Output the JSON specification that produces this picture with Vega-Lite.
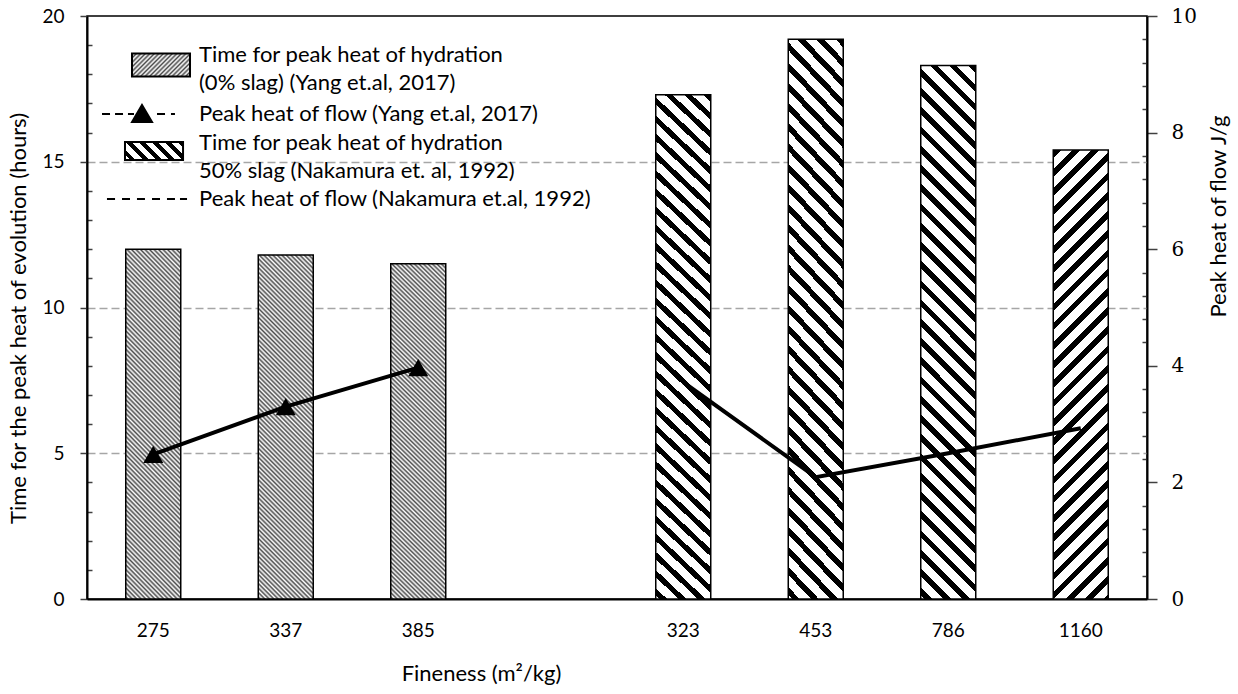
{
"$schema": "https://vega.github.io/schema/vega-lite/v6.json",
"width": 1060, "height": 583,
"autosize": "none",
"padding": {"left": 87, "top": 16, "right": 91, "bottom": 95},
"background": "white",
"config": {
 "font": "Lato",
 "view": {"stroke": "#000", "strokeWidth": 1.5},
 "axis": {"domainColor": "#000", "domainWidth": 2, "tickColor": "#404040", "tickWidth": 1.5, "labelColor": "#000", "titleColor": "#000", "titleFontWeight": "normal", "labelFont": "Lato", "titleFont": "Lato", "labelFontSize": 19, "titleFontSize": 22, "labelOverlap": false},
 "legend": {"labelColor": "#000"}
},
"datasets": {
 "bars": [
  {"fineness": "275", "time": 12.0, "group": "Yang"},
  {"fineness": "337", "time": 11.8, "group": "Yang"},
  {"fineness": "385", "time": 11.5, "group": "Yang"},
  {"fineness": "323", "time": 17.3, "group": "Nakamura"},
  {"fineness": "453", "time": 19.2, "group": "Nakamura"},
  {"fineness": "786", "time": 18.3, "group": "Nakamura"},
  {"fineness": "1160", "time": 15.4, "group": "Nakamura"}
 ],
 "flow": [
  {"fineness": "275", "heat": 2.48, "series": "flow_Yang"},
  {"fineness": "337", "heat": 3.3, "series": "flow_Yang"},
  {"fineness": "385", "heat": 3.97, "series": "flow_Yang"},
  {"fineness": "323", "heat": 3.72, "series": "flow_Nakamura"},
  {"fineness": "453", "heat": 2.09, "series": "flow_Nakamura"},
  {"fineness": "786", "heat": 2.5, "series": "flow_Nakamura"},
  {"fineness": "1160", "heat": 2.93, "series": "flow_Nakamura"}
 ]
},
"encoding": {
 "x": {"field": "fineness", "type": "nominal",
  "scale": {"domain": ["275", "337", "385", " ", "323", "453", "786", "1160"], "paddingInner": 0.585, "paddingOuter": 0.2925},
  "axis": {"title": "Fineness (m²/kg)", "ticks": false, "labelPadding": 22, "labelAngle": 0, "grid": false, "titleX": 394, "titleY": 74, "titleBaseline": "middle"}}
},
"layer": [
 {
  "data": {"name": "bars"},
  "mark": {"type": "bar", "stroke": "#000", "strokeWidth": 1.5},
  "encoding": {
   "y": {"field": "time", "type": "quantitative", "scale": {"domain": [0, 20], "nice": false},
    "axis": {"title": "Time for the peak heat of evolution (hours)",
     "values": [0,1,2,3,4,5,6,7,8,9,10,11,12,13,14,15,16,17,18,19,20],
     "labelExpr": "datum.value % 5 === 0 ? datum.label : ''",
     "tickSize": {"condition": {"test": "datum.value % 5 === 0", "value": 7}, "value": -5},
     "grid": true, "gridColor": "#a6a6a6", "gridDash": [8, 4], "gridWidth": 1.3,
     "gridOpacity": {"condition": {"test": "datum.value % 5 === 0 && datum.value > 0 && datum.value < 20", "value": 1}, "value": 0},
     "labelPadding": 16, "titleX": -69, "titleY": 302, "titleBaseline": "middle"}},
   "fill": {
    "condition": [
     {"test": "datum.group === 'Yang'", "value": {"gradient": "linear", "x1": 1, "y1": 0, "x2": 0.7949, "y2": 1.27907, "stops": [
{"offset":0,"color":"#4d4d4d"},{"offset":0.005,"color":"#fff"},{"offset":0.01,"color":"#4d4d4d"},{"offset":0.015,"color":"#fff"},{"offset":0.02,"color":"#4d4d4d"},{"offset":0.025,"color":"#fff"},{"offset":0.03,"color":"#4d4d4d"},{"offset":0.035,"color":"#fff"},{"offset":0.04,"color":"#4d4d4d"},{"offset":0.045,"color":"#fff"},{"offset":0.05,"color":"#4d4d4d"},{"offset":0.055,"color":"#fff"},{"offset":0.06,"color":"#4d4d4d"},{"offset":0.065,"color":"#fff"},{"offset":0.07,"color":"#4d4d4d"},{"offset":0.075,"color":"#fff"},{"offset":0.08,"color":"#4d4d4d"},{"offset":0.085,"color":"#fff"},{"offset":0.09,"color":"#4d4d4d"},{"offset":0.095,"color":"#fff"},
{"offset":0.1,"color":"#4d4d4d"},{"offset":0.105,"color":"#fff"},{"offset":0.11,"color":"#4d4d4d"},{"offset":0.115,"color":"#fff"},{"offset":0.12,"color":"#4d4d4d"},{"offset":0.125,"color":"#fff"},{"offset":0.13,"color":"#4d4d4d"},{"offset":0.135,"color":"#fff"},{"offset":0.14,"color":"#4d4d4d"},{"offset":0.145,"color":"#fff"},{"offset":0.15,"color":"#4d4d4d"},{"offset":0.155,"color":"#fff"},{"offset":0.16,"color":"#4d4d4d"},{"offset":0.165,"color":"#fff"},{"offset":0.17,"color":"#4d4d4d"},{"offset":0.175,"color":"#fff"},{"offset":0.18,"color":"#4d4d4d"},{"offset":0.185,"color":"#fff"},{"offset":0.19,"color":"#4d4d4d"},{"offset":0.195,"color":"#fff"},
{"offset":0.2,"color":"#4d4d4d"},{"offset":0.205,"color":"#fff"},{"offset":0.21,"color":"#4d4d4d"},{"offset":0.215,"color":"#fff"},{"offset":0.22,"color":"#4d4d4d"},{"offset":0.225,"color":"#fff"},{"offset":0.23,"color":"#4d4d4d"},{"offset":0.235,"color":"#fff"},{"offset":0.24,"color":"#4d4d4d"},{"offset":0.245,"color":"#fff"},{"offset":0.25,"color":"#4d4d4d"},{"offset":0.255,"color":"#fff"},{"offset":0.26,"color":"#4d4d4d"},{"offset":0.265,"color":"#fff"},{"offset":0.27,"color":"#4d4d4d"},{"offset":0.275,"color":"#fff"},{"offset":0.28,"color":"#4d4d4d"},{"offset":0.285,"color":"#fff"},{"offset":0.29,"color":"#4d4d4d"},{"offset":0.295,"color":"#fff"},
{"offset":0.3,"color":"#4d4d4d"},{"offset":0.305,"color":"#fff"},{"offset":0.31,"color":"#4d4d4d"},{"offset":0.315,"color":"#fff"},{"offset":0.32,"color":"#4d4d4d"},{"offset":0.325,"color":"#fff"},{"offset":0.33,"color":"#4d4d4d"},{"offset":0.335,"color":"#fff"},{"offset":0.34,"color":"#4d4d4d"},{"offset":0.345,"color":"#fff"},{"offset":0.35,"color":"#4d4d4d"},{"offset":0.355,"color":"#fff"},{"offset":0.36,"color":"#4d4d4d"},{"offset":0.365,"color":"#fff"},{"offset":0.37,"color":"#4d4d4d"},{"offset":0.375,"color":"#fff"},{"offset":0.38,"color":"#4d4d4d"},{"offset":0.385,"color":"#fff"},{"offset":0.39,"color":"#4d4d4d"},{"offset":0.395,"color":"#fff"},
{"offset":0.4,"color":"#4d4d4d"},{"offset":0.405,"color":"#fff"},{"offset":0.41,"color":"#4d4d4d"},{"offset":0.415,"color":"#fff"},{"offset":0.42,"color":"#4d4d4d"},{"offset":0.425,"color":"#fff"},{"offset":0.43,"color":"#4d4d4d"},{"offset":0.435,"color":"#fff"},{"offset":0.44,"color":"#4d4d4d"},{"offset":0.445,"color":"#fff"},{"offset":0.45,"color":"#4d4d4d"},{"offset":0.455,"color":"#fff"},{"offset":0.46,"color":"#4d4d4d"},{"offset":0.465,"color":"#fff"},{"offset":0.47,"color":"#4d4d4d"},{"offset":0.475,"color":"#fff"},{"offset":0.48,"color":"#4d4d4d"},{"offset":0.485,"color":"#fff"},{"offset":0.49,"color":"#4d4d4d"},{"offset":0.495,"color":"#fff"},
{"offset":0.5,"color":"#4d4d4d"},{"offset":0.505,"color":"#fff"},{"offset":0.51,"color":"#4d4d4d"},{"offset":0.515,"color":"#fff"},{"offset":0.52,"color":"#4d4d4d"},{"offset":0.525,"color":"#fff"},{"offset":0.53,"color":"#4d4d4d"},{"offset":0.535,"color":"#fff"},{"offset":0.54,"color":"#4d4d4d"},{"offset":0.545,"color":"#fff"},{"offset":0.55,"color":"#4d4d4d"},{"offset":0.555,"color":"#fff"},{"offset":0.56,"color":"#4d4d4d"},{"offset":0.565,"color":"#fff"},{"offset":0.57,"color":"#4d4d4d"},{"offset":0.575,"color":"#fff"},{"offset":0.58,"color":"#4d4d4d"},{"offset":0.585,"color":"#fff"},{"offset":0.59,"color":"#4d4d4d"},{"offset":0.595,"color":"#fff"},
{"offset":0.6,"color":"#4d4d4d"},{"offset":0.605,"color":"#fff"},{"offset":0.61,"color":"#4d4d4d"},{"offset":0.615,"color":"#fff"},{"offset":0.62,"color":"#4d4d4d"},{"offset":0.625,"color":"#fff"},{"offset":0.63,"color":"#4d4d4d"},{"offset":0.635,"color":"#fff"},{"offset":0.64,"color":"#4d4d4d"},{"offset":0.645,"color":"#fff"},{"offset":0.65,"color":"#4d4d4d"},{"offset":0.655,"color":"#fff"},{"offset":0.66,"color":"#4d4d4d"},{"offset":0.665,"color":"#fff"},{"offset":0.67,"color":"#4d4d4d"},{"offset":0.675,"color":"#fff"},{"offset":0.68,"color":"#4d4d4d"},{"offset":0.685,"color":"#fff"},{"offset":0.69,"color":"#4d4d4d"},{"offset":0.695,"color":"#fff"},
{"offset":0.7,"color":"#4d4d4d"},{"offset":0.705,"color":"#fff"},{"offset":0.71,"color":"#4d4d4d"},{"offset":0.715,"color":"#fff"},{"offset":0.72,"color":"#4d4d4d"},{"offset":0.725,"color":"#fff"},{"offset":0.73,"color":"#4d4d4d"},{"offset":0.735,"color":"#fff"},{"offset":0.74,"color":"#4d4d4d"},{"offset":0.745,"color":"#fff"},{"offset":0.75,"color":"#4d4d4d"},{"offset":0.755,"color":"#fff"},{"offset":0.76,"color":"#4d4d4d"},{"offset":0.765,"color":"#fff"},{"offset":0.77,"color":"#4d4d4d"},{"offset":0.775,"color":"#fff"},{"offset":0.78,"color":"#4d4d4d"},{"offset":0.785,"color":"#fff"},{"offset":0.79,"color":"#4d4d4d"},{"offset":0.795,"color":"#fff"},
{"offset":0.8,"color":"#4d4d4d"},{"offset":0.805,"color":"#fff"},{"offset":0.81,"color":"#4d4d4d"},{"offset":0.815,"color":"#fff"},{"offset":0.82,"color":"#4d4d4d"},{"offset":0.825,"color":"#fff"},{"offset":0.83,"color":"#4d4d4d"},{"offset":0.835,"color":"#fff"},{"offset":0.84,"color":"#4d4d4d"},{"offset":0.845,"color":"#fff"},{"offset":0.85,"color":"#4d4d4d"},{"offset":0.855,"color":"#fff"},{"offset":0.86,"color":"#4d4d4d"},{"offset":0.865,"color":"#fff"},{"offset":0.87,"color":"#4d4d4d"},{"offset":0.875,"color":"#fff"},{"offset":0.88,"color":"#4d4d4d"},{"offset":0.885,"color":"#fff"},{"offset":0.89,"color":"#4d4d4d"},{"offset":0.895,"color":"#fff"},
{"offset":0.9,"color":"#4d4d4d"},{"offset":0.905,"color":"#fff"},{"offset":0.91,"color":"#4d4d4d"},{"offset":0.915,"color":"#fff"},{"offset":0.92,"color":"#4d4d4d"},{"offset":0.925,"color":"#fff"},{"offset":0.93,"color":"#4d4d4d"},{"offset":0.935,"color":"#fff"},{"offset":0.94,"color":"#4d4d4d"},{"offset":0.945,"color":"#fff"},{"offset":0.95,"color":"#4d4d4d"},{"offset":0.955,"color":"#fff"},{"offset":1,"color":"#fff"}
     ]}},
     {"test": "datum.fineness === '1160'", "value": {"gradient": "linear", "x1": 0, "y1": 0, "x2": 0.1653, "y2": 1.34947, "stops": [
{"offset":0,"color":"#000"},{"offset":0.0125,"color":"#000"},{"offset":0.0125,"color":"#fff"},{"offset":0.03125,"color":"#fff"},
{"offset":0.03125,"color":"#000"},{"offset":0.04375,"color":"#000"},{"offset":0.04375,"color":"#fff"},{"offset":0.0625,"color":"#fff"},
{"offset":0.0625,"color":"#000"},{"offset":0.075,"color":"#000"},{"offset":0.075,"color":"#fff"},{"offset":0.09375,"color":"#fff"},
{"offset":0.09375,"color":"#000"},{"offset":0.10625,"color":"#000"},{"offset":0.10625,"color":"#fff"},{"offset":0.125,"color":"#fff"},
{"offset":0.125,"color":"#000"},{"offset":0.1375,"color":"#000"},{"offset":0.1375,"color":"#fff"},{"offset":0.15625,"color":"#fff"},
{"offset":0.15625,"color":"#000"},{"offset":0.16875,"color":"#000"},{"offset":0.16875,"color":"#fff"},{"offset":0.1875,"color":"#fff"},
{"offset":0.1875,"color":"#000"},{"offset":0.2,"color":"#000"},{"offset":0.2,"color":"#fff"},{"offset":0.21875,"color":"#fff"},
{"offset":0.21875,"color":"#000"},{"offset":0.23125,"color":"#000"},{"offset":0.23125,"color":"#fff"},{"offset":0.25,"color":"#fff"},
{"offset":0.25,"color":"#000"},{"offset":0.2625,"color":"#000"},{"offset":0.2625,"color":"#fff"},{"offset":0.28125,"color":"#fff"},
{"offset":0.28125,"color":"#000"},{"offset":0.29375,"color":"#000"},{"offset":0.29375,"color":"#fff"},{"offset":0.3125,"color":"#fff"},
{"offset":0.3125,"color":"#000"},{"offset":0.325,"color":"#000"},{"offset":0.325,"color":"#fff"},{"offset":0.34375,"color":"#fff"},
{"offset":0.34375,"color":"#000"},{"offset":0.35625,"color":"#000"},{"offset":0.35625,"color":"#fff"},{"offset":0.375,"color":"#fff"},
{"offset":0.375,"color":"#000"},{"offset":0.3875,"color":"#000"},{"offset":0.3875,"color":"#fff"},{"offset":0.40625,"color":"#fff"},
{"offset":0.40625,"color":"#000"},{"offset":0.41875,"color":"#000"},{"offset":0.41875,"color":"#fff"},{"offset":0.4375,"color":"#fff"},
{"offset":0.4375,"color":"#000"},{"offset":0.45,"color":"#000"},{"offset":0.45,"color":"#fff"},{"offset":0.46875,"color":"#fff"},
{"offset":0.46875,"color":"#000"},{"offset":0.48125,"color":"#000"},{"offset":0.48125,"color":"#fff"},{"offset":0.5,"color":"#fff"},
{"offset":0.5,"color":"#000"},{"offset":0.5125,"color":"#000"},{"offset":0.5125,"color":"#fff"},{"offset":0.53125,"color":"#fff"},
{"offset":0.53125,"color":"#000"},{"offset":0.54375,"color":"#000"},{"offset":0.54375,"color":"#fff"},{"offset":0.5625,"color":"#fff"},
{"offset":0.5625,"color":"#000"},{"offset":0.575,"color":"#000"},{"offset":0.575,"color":"#fff"},{"offset":0.59375,"color":"#fff"},
{"offset":0.59375,"color":"#000"},{"offset":0.60625,"color":"#000"},{"offset":0.60625,"color":"#fff"},{"offset":0.625,"color":"#fff"},
{"offset":0.625,"color":"#000"},{"offset":0.6375,"color":"#000"},{"offset":0.6375,"color":"#fff"},{"offset":0.65625,"color":"#fff"},
{"offset":0.65625,"color":"#000"},{"offset":0.66875,"color":"#000"},{"offset":0.66875,"color":"#fff"},{"offset":0.6875,"color":"#fff"},
{"offset":0.6875,"color":"#000"},{"offset":0.7,"color":"#000"},{"offset":0.7,"color":"#fff"},{"offset":0.71875,"color":"#fff"},
{"offset":0.71875,"color":"#000"},{"offset":0.73125,"color":"#000"},{"offset":0.73125,"color":"#fff"},{"offset":0.75,"color":"#fff"},
{"offset":0.75,"color":"#000"},{"offset":0.7625,"color":"#000"},{"offset":0.7625,"color":"#fff"},{"offset":0.78125,"color":"#fff"},
{"offset":0.78125,"color":"#000"},{"offset":0.79375,"color":"#000"},{"offset":0.79375,"color":"#fff"},{"offset":0.8125,"color":"#fff"},
{"offset":0.8125,"color":"#000"},{"offset":0.825,"color":"#000"},{"offset":0.825,"color":"#fff"},{"offset":0.84375,"color":"#fff"},
{"offset":0.84375,"color":"#000"},{"offset":0.85625,"color":"#000"},{"offset":0.85625,"color":"#fff"},{"offset":1,"color":"#fff"}
     ]}}
    ],
    "value": {"gradient": "linear", "x1": 1, "y1": 0, "x2": 0.88219, "y2": 1.14169, "stops": [
{"offset":0,"color":"#000"},{"offset":0.0125,"color":"#000"},{"offset":0.0125,"color":"#fff"},{"offset":0.03125,"color":"#fff"},
{"offset":0.03125,"color":"#000"},{"offset":0.04375,"color":"#000"},{"offset":0.04375,"color":"#fff"},{"offset":0.0625,"color":"#fff"},
{"offset":0.0625,"color":"#000"},{"offset":0.075,"color":"#000"},{"offset":0.075,"color":"#fff"},{"offset":0.09375,"color":"#fff"},
{"offset":0.09375,"color":"#000"},{"offset":0.10625,"color":"#000"},{"offset":0.10625,"color":"#fff"},{"offset":0.125,"color":"#fff"},
{"offset":0.125,"color":"#000"},{"offset":0.1375,"color":"#000"},{"offset":0.1375,"color":"#fff"},{"offset":0.15625,"color":"#fff"},
{"offset":0.15625,"color":"#000"},{"offset":0.16875,"color":"#000"},{"offset":0.16875,"color":"#fff"},{"offset":0.1875,"color":"#fff"},
{"offset":0.1875,"color":"#000"},{"offset":0.2,"color":"#000"},{"offset":0.2,"color":"#fff"},{"offset":0.21875,"color":"#fff"},
{"offset":0.21875,"color":"#000"},{"offset":0.23125,"color":"#000"},{"offset":0.23125,"color":"#fff"},{"offset":0.25,"color":"#fff"},
{"offset":0.25,"color":"#000"},{"offset":0.2625,"color":"#000"},{"offset":0.2625,"color":"#fff"},{"offset":0.28125,"color":"#fff"},
{"offset":0.28125,"color":"#000"},{"offset":0.29375,"color":"#000"},{"offset":0.29375,"color":"#fff"},{"offset":0.3125,"color":"#fff"},
{"offset":0.3125,"color":"#000"},{"offset":0.325,"color":"#000"},{"offset":0.325,"color":"#fff"},{"offset":0.34375,"color":"#fff"},
{"offset":0.34375,"color":"#000"},{"offset":0.35625,"color":"#000"},{"offset":0.35625,"color":"#fff"},{"offset":0.375,"color":"#fff"},
{"offset":0.375,"color":"#000"},{"offset":0.3875,"color":"#000"},{"offset":0.3875,"color":"#fff"},{"offset":0.40625,"color":"#fff"},
{"offset":0.40625,"color":"#000"},{"offset":0.41875,"color":"#000"},{"offset":0.41875,"color":"#fff"},{"offset":0.4375,"color":"#fff"},
{"offset":0.4375,"color":"#000"},{"offset":0.45,"color":"#000"},{"offset":0.45,"color":"#fff"},{"offset":0.46875,"color":"#fff"},
{"offset":0.46875,"color":"#000"},{"offset":0.48125,"color":"#000"},{"offset":0.48125,"color":"#fff"},{"offset":0.5,"color":"#fff"},
{"offset":0.5,"color":"#000"},{"offset":0.5125,"color":"#000"},{"offset":0.5125,"color":"#fff"},{"offset":0.53125,"color":"#fff"},
{"offset":0.53125,"color":"#000"},{"offset":0.54375,"color":"#000"},{"offset":0.54375,"color":"#fff"},{"offset":0.5625,"color":"#fff"},
{"offset":0.5625,"color":"#000"},{"offset":0.575,"color":"#000"},{"offset":0.575,"color":"#fff"},{"offset":0.59375,"color":"#fff"},
{"offset":0.59375,"color":"#000"},{"offset":0.60625,"color":"#000"},{"offset":0.60625,"color":"#fff"},{"offset":0.625,"color":"#fff"},
{"offset":0.625,"color":"#000"},{"offset":0.6375,"color":"#000"},{"offset":0.6375,"color":"#fff"},{"offset":0.65625,"color":"#fff"},
{"offset":0.65625,"color":"#000"},{"offset":0.66875,"color":"#000"},{"offset":0.66875,"color":"#fff"},{"offset":0.6875,"color":"#fff"},
{"offset":0.6875,"color":"#000"},{"offset":0.7,"color":"#000"},{"offset":0.7,"color":"#fff"},{"offset":0.71875,"color":"#fff"},
{"offset":0.71875,"color":"#000"},{"offset":0.73125,"color":"#000"},{"offset":0.73125,"color":"#fff"},{"offset":0.75,"color":"#fff"},
{"offset":0.75,"color":"#000"},{"offset":0.7625,"color":"#000"},{"offset":0.7625,"color":"#fff"},{"offset":0.78125,"color":"#fff"},
{"offset":0.78125,"color":"#000"},{"offset":0.79375,"color":"#000"},{"offset":0.79375,"color":"#fff"},{"offset":0.8125,"color":"#fff"},
{"offset":0.8125,"color":"#000"},{"offset":0.825,"color":"#000"},{"offset":0.825,"color":"#fff"},{"offset":0.84375,"color":"#fff"},
{"offset":0.84375,"color":"#000"},{"offset":0.85625,"color":"#000"},{"offset":0.85625,"color":"#fff"},{"offset":0.875,"color":"#fff"},
{"offset":0.875,"color":"#000"},{"offset":0.8875,"color":"#000"},{"offset":0.8875,"color":"#fff"},{"offset":0.90625,"color":"#fff"},
{"offset":0.90625,"color":"#000"},{"offset":0.91875,"color":"#000"},{"offset":0.91875,"color":"#fff"},{"offset":0.9375,"color":"#fff"},
{"offset":0.9375,"color":"#000"},{"offset":0.95,"color":"#000"},{"offset":0.95,"color":"#fff"},{"offset":0.96875,"color":"#fff"},
{"offset":0.96875,"color":"#000"},{"offset":0.98125,"color":"#000"},{"offset":0.98125,"color":"#fff"},{"offset":1,"color":"#fff"}
    ]}
   }
  }
 },
 {
  "data": {"name": "flow"},
  "encoding": {
   "y": {"field": "heat", "type": "quantitative", "scale": {"domain": [0, 10], "nice": false},
    "axis": {"orient": "right", "title": "Peak heat of flow J/g",
     "values": [0,0.4,0.8,1.2,1.6,2,2.4,2.8,3.2,3.6,4,4.4,4.8,5.2,5.6,6,6.4,6.8,7.2,7.6,8,8.4,8.8,9.2,9.6,10],
     "labelExpr": "datum.value % 2 === 0 ? toString(datum.value) : ''",
     "tickSize": {"condition": {"test": "datum.value % 2 === 0", "value": 10}, "value": -5},
     "labelFont": "DejaVu Serif", "labelFontSize": 20, "labelPadding": 14, "grid": false, "labelOverlap": false,
     "titleAngle": -90, "titleX": 71, "titleY": 200, "titleBaseline": "middle"}}
  },
  "layer": [
   {
    "mark": {"type": "line", "strokeWidth": 4},
    "encoding": {
     "order": {"value": null},
     "color": {"field": "series", "type": "nominal",
      "scale": {"domain": ["hydration_Yang", "flow_Yang", "hydration_Nakamura", "flow_Nakamura"], "range": ["#000", "#000", "#000", "#000"]},
      "legend": {"orient": "none", "legendX": 49, "legendY": 28, "title": null,
       "symbolSize": 289, "symbolStrokeWidth": 2, "labelFont": "Lato", "labelFontSize": 22, "labelLimit": 0, "labelOffset": 41, "rowPadding": 6, "padding": 0,
       "labelExpr": "datum.value === 'hydration_Yang' ? ['Time for peak heat of hydration', '(0% slag) (Yang et.al, 2017)'] : datum.value === 'flow_Yang' ? 'Peak heat of flow (Yang et.al, 2017)' : datum.value === 'hydration_Nakamura' ? ['Time for peak heat of hydration', '50% slag (Nakamura et. al, 1992)'] : 'Peak heat of flow (Nakamura et.al, 1992)'",
       "encode": {
        "symbols": {"update": {
         "shape": [
           {"test": "datum.value === 'hydration_Yang'", "value": "M-1.765,-0.18H5.06V2.53H-1.765Z"},
           {"test": "datum.value === 'flow_Yang'", "value": "M-5.29,0H-4.35M-3.76,0H-2.82M-2.24,0H-1.53M1.18,0H2.12M2.82,0H3.29M-1.76,0.94L-0.59,-1.06L0.59,0.94Z"},
           {"test": "datum.value === 'hydration_Nakamura'", "value": "M-2.59,-0.12H4.24V2H-2.59Z"},
           {"value": "M-4.71,0H-3.76M-2.94,0H-2M-1.18,0H-0.24M0.59,0H1.53M2.35,0H3.29M3.88,0H4.71"}],
         "fill": [
           {"test": "datum.value === 'hydration_Yang'", "value": {"gradient": "linear", "x1": 0, "y1": 0, "x2": 6.704, "y2": 2.659, "stops": [
{"offset":0,"color":"#4d4d4d"},{"offset":0.005,"color":"#fff"},{"offset":0.01,"color":"#4d4d4d"},{"offset":0.015,"color":"#fff"},{"offset":0.02,"color":"#4d4d4d"},{"offset":0.025,"color":"#fff"},{"offset":0.03,"color":"#4d4d4d"},{"offset":0.035,"color":"#fff"},{"offset":0.04,"color":"#4d4d4d"},{"offset":0.045,"color":"#fff"},{"offset":0.05,"color":"#4d4d4d"},{"offset":0.055,"color":"#fff"},{"offset":0.06,"color":"#4d4d4d"},{"offset":0.065,"color":"#fff"},{"offset":0.07,"color":"#4d4d4d"},{"offset":0.075,"color":"#fff"},{"offset":0.08,"color":"#4d4d4d"},{"offset":0.085,"color":"#fff"},{"offset":0.09,"color":"#4d4d4d"},{"offset":0.095,"color":"#fff"},
{"offset":0.1,"color":"#4d4d4d"},{"offset":0.105,"color":"#fff"},{"offset":0.11,"color":"#4d4d4d"},{"offset":0.115,"color":"#fff"},{"offset":0.12,"color":"#4d4d4d"},{"offset":0.125,"color":"#fff"},{"offset":0.13,"color":"#4d4d4d"},{"offset":0.135,"color":"#fff"},{"offset":0.14,"color":"#4d4d4d"},{"offset":0.145,"color":"#fff"},{"offset":0.15,"color":"#4d4d4d"},{"offset":0.155,"color":"#fff"},{"offset":0.16,"color":"#4d4d4d"},{"offset":0.165,"color":"#fff"},{"offset":0.17,"color":"#4d4d4d"},{"offset":0.175,"color":"#fff"},{"offset":0.18,"color":"#4d4d4d"},{"offset":0.185,"color":"#fff"},{"offset":0.19,"color":"#4d4d4d"},{"offset":0.195,"color":"#fff"},{"offset":0.2,"color":"#4d4d4d"},{"offset":1,"color":"#fff"}
           ]}},
           {"test": "datum.value === 'flow_Yang'", "value": "#000"},
           {"test": "datum.value === 'hydration_Nakamura'", "value": {"gradient": "linear", "x1": 1, "y1": 0, "x2": -5.5423, "y2": 2.0304, "stops": [
{"offset":0,"color":"#000"},{"offset":0.0125,"color":"#000"},{"offset":0.0125,"color":"#fff"},{"offset":0.03125,"color":"#fff"},
{"offset":0.03125,"color":"#000"},{"offset":0.04375,"color":"#000"},{"offset":0.04375,"color":"#fff"},{"offset":0.0625,"color":"#fff"},
{"offset":0.0625,"color":"#000"},{"offset":0.075,"color":"#000"},{"offset":0.075,"color":"#fff"},{"offset":0.09375,"color":"#fff"},
{"offset":0.09375,"color":"#000"},{"offset":0.10625,"color":"#000"},{"offset":0.10625,"color":"#fff"},{"offset":0.125,"color":"#fff"},
{"offset":0.125,"color":"#000"},{"offset":0.1375,"color":"#000"},{"offset":0.1375,"color":"#fff"},{"offset":0.15625,"color":"#fff"},
{"offset":0.15625,"color":"#000"},{"offset":0.16875,"color":"#000"},{"offset":0.16875,"color":"#fff"},{"offset":0.1875,"color":"#fff"},
{"offset":0.1875,"color":"#000"},{"offset":0.2,"color":"#000"},{"offset":0.2,"color":"#fff"},{"offset":1,"color":"#fff"}
           ]}},
           {"value": "transparent"}],
         "stroke": {"value": "#000"},
         "strokeWidth": {"value": 2},
         "opacity": {"value": 1}
        }},
        "labels": {"update": {"lineHeight": {"value": 28}}}
       }
      }
     }
    }
   },
   {
    "transform": [{"filter": "datum.series === 'flow_Yang'"}],
    "mark": {"type": "point", "shape": "triangle-up", "filled": true, "size": 400, "color": "#000", "opacity": 1}
   }
  ]
 }
],
"resolve": {"scale": {"y": "independent"}}
}
